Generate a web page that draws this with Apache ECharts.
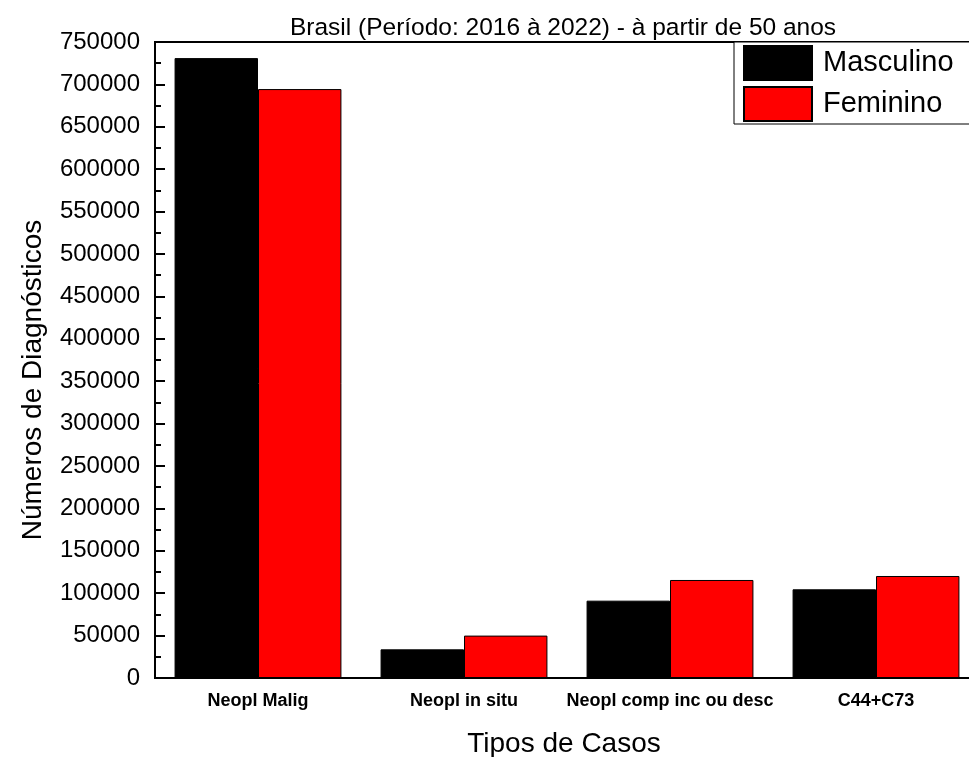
<!DOCTYPE html>
<html>
<head>
<meta charset="utf-8">
<script src="https://cdn.jsdelivr.net/npm/echarts@6/dist/echarts.min.js"></script>
<style>html,body{margin:0;padding:0;background:#fff;}#c{width:969px;height:757px;}</style>
</head>
<body>
<div id="c"></div>
<script>
const categories = ['Neopl Malig', 'Neopl in situ', 'Neopl comp inc ou desc', 'C44+C73'];
const masculino = [731000, 33800, 91200, 104600];
const feminino = [694500, 50000, 115600, 120300];
const seriesNames = ['Masculino', 'Feminino'];
const titleText = 'Brasil (Período: 2016 à 2022) - à partir de 50 anos';
const xName = 'Tipos de Casos';
const yName = 'Números de Diagnósticos';

const FONT = 'Liberation Sans, Arial, sans-serif';
const chart = echarts.init(document.getElementById('c'), null, {renderer: 'canvas'});
chart.setOption({
  backgroundColor: '#fff',
  animation: false,
  textStyle: {fontFamily: FONT, color: '#000'},
  title: {
    text: titleText, left: 558, top: 11, textAlign: 'center',
    textStyle: {fontFamily: FONT, fontSize: 24.5, fontWeight: 'normal', color: '#000'}
  },
  legend: {
    orient: 'vertical', left: 734, top: 42,
    padding: [3, 40, 2, 9],
    itemWidth: 68, itemHeight: 34, itemGap: 5,
    borderColor: '#000', borderWidth: 1, backgroundColor: '#fff',
    icon: 'rect',
    textStyle: {fontFamily: FONT, fontSize: 29, color: '#000', padding: [0, 0, 0, 6]},
    data: seriesNames
  },
  grid: {
    left: 155, top: 42, right: -10, bottom: 79,
    outerBoundsMode: 'none', containLabel: false,
    show: true, borderColor: '#000', borderWidth: 2, backgroundColor: 'transparent'
  },
  xAxis: {
    type: 'category', data: categories,
    axisLine: {lineStyle: {color: '#000', width: 2}},
    axisTick: {inside: true, length: 5, lineStyle: {color: '#000', width: 2}},
    axisLabel: {interval: 0, fontFamily: FONT, fontSize: 18, fontWeight: 'bold', color: '#000', margin: 14},
    name: xName, nameLocation: 'middle', nameGap: 52,
    nameTextStyle: {fontFamily: FONT, fontSize: 28, color: '#000', padding: [0, 6, 0, 0]}
  },
  yAxis: {
    type: 'value', min: 0, max: 750000, interval: 50000,
    axisLine: {show: true, lineStyle: {color: '#000', width: 2}},
    axisTick: {show: true, inside: true, length: 10, lineStyle: {color: '#000', width: 2}},
    minorTick: {show: true, splitNumber: 2, length: 6, lineStyle: {color: '#000', width: 2}},
    splitLine: {show: false},
    axisLabel: {fontFamily: FONT, fontSize: 24, color: '#000', margin: 15, formatter: v => String(v)},
    name: yName, nameLocation: 'middle', nameGap: 108, nameRotate: 90,
    nameTextStyle: {fontFamily: FONT, fontSize: 28, color: '#000', padding: [0, 40, 0, 0]}
  },
  series: [
    {name: seriesNames[0], type: 'bar', data: masculino, barGap: '0%', barCategoryGap: '19%',
     itemStyle: {color: '#000', borderColor: '#000', borderWidth: 1}},
    {name: seriesNames[1], type: 'bar', data: feminino, barGap: '0%', barCategoryGap: '19%',
     itemStyle: {color: '#ff0000', borderColor: '#000', borderWidth: 1}}
  ]
});
</script>
</body>
</html>
